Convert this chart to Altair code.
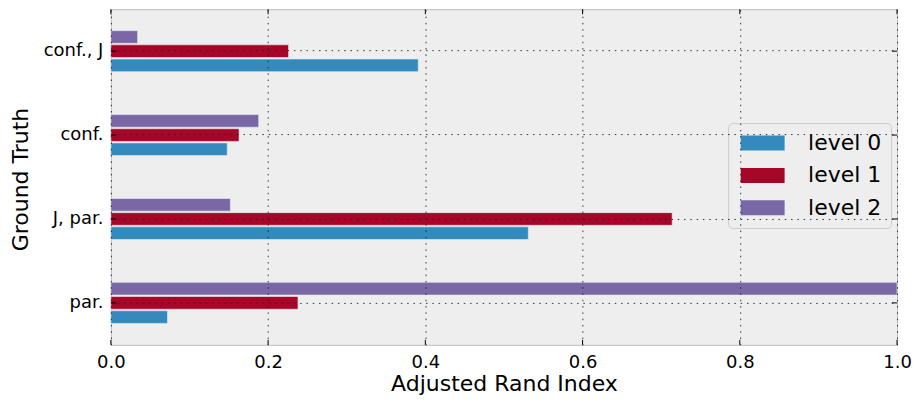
import altair as alt
import pandas as pd

categories = ["conf., J", "conf.", "J, par.", "par."]
levels = ["level 0", "level 1", "level 2"]
level0 = [0.391, 0.148, 0.531, 0.072]
level1 = [0.226, 0.163, 0.714, 0.238]
level2 = [0.034, 0.188, 0.152, 1.0]
colors = ["#348ABD", "#A60628", "#7A68A6"]
x_ticks = [0, 0.2, 0.4, 0.6, 0.8, 1.0]

rows = []
for lvl, vals in zip(levels, [level0, level1, level2]):
    for c, v in zip(categories, vals):
        rows.append({"truth": c, "level": lvl, "ari": v})
df = pd.DataFrame(rows)
tick_df = pd.DataFrame({"ari": x_ticks})
cat_df = pd.DataFrame({"truth": categories})

FONT = "DejaVu Sans"
W, H, TL = 787, 336, 5

x_scale = alt.Scale(domain=[0, 1], nice=False, zero=True)
y_scale = alt.Scale(paddingInner=0.493, paddingOuter=0.2465)

bars = alt.Chart(df).mark_bar(stroke="#eeeeee", strokeWidth=0.6).encode(
    x=alt.X("ari:Q", title="Adjusted Rand Index", scale=x_scale,
            axis=alt.Axis(values=x_ticks, format=".1f",
                          labelFontSize=18, titleFontSize=22, labelPadding=9,
                          titleBaseline="alphabetic", titleY=46,
                          tickSize=0, domain=False, zindex=1, grid=True,
                          labelFlush=False)),
    y=alt.Y("truth:N", title="Ground Truth", sort=categories, scale=y_scale,
            axis=alt.Axis(labelFontSize=18, titleFontSize=22, labelPadding=8,
                          tickSize=0, domain=False, zindex=1, bandPosition=0.5,
                          grid=True,
                          titleBaseline="alphabetic", titleX=-83.5, titleY=170,
                          titleAngle=-90, titleAlign="center")),
    yOffset=alt.YOffset("level:N", sort=["level 2", "level 1", "level 0"],
                        scale=alt.Scale(paddingInner=0.106, paddingOuter=0.053)),
    color=alt.Color("level:N", sort=levels,
                    scale=alt.Scale(domain=levels, range=colors),
                    legend=alt.Legend(title=None, orient="none", legendX=618, legendY=114,
                                      symbolType="M-2.93,-1H2.93V1H-2.93Z", symbolSize=225,
                                      symbolStrokeWidth=0, symbolOpacity=1,
                                      symbolOffset=14.5, labelOffset=34.5,
                                      labelFontSize=22, labelFont=FONT, rowPadding=10.4,
                                      padding=9, fillColor="#eeeeee", strokeColor="#cccccc",
                                      cornerRadius=4)),
)

xt = alt.Chart(tick_df).mark_rule(color="#000", strokeWidth=1)
top_ticks = xt.encode(x=alt.X("ari:Q", scale=x_scale),
                      y=alt.value(0), y2=alt.value(TL))
bottom_ticks = xt.encode(x=alt.X("ari:Q", scale=x_scale),
                         y=alt.value(H - TL), y2=alt.value(H))
yt = alt.Chart(cat_df).mark_rule(color="#000", strokeWidth=1)
left_ticks = yt.encode(y=alt.Y("truth:N", sort=categories, scale=y_scale),
                       x=alt.value(0), x2=alt.value(TL))
right_ticks = yt.encode(y=alt.Y("truth:N", sort=categories, scale=y_scale),
                        x=alt.value(W - TL), x2=alt.value(W))

chart = alt.layer(bars, top_ticks, bottom_ticks, left_ticks, right_ticks).properties(
    width=W, height=H,
    padding={"left": 1, "top": 0, "right": 0, "bottom": 0},
).configure(
    font=FONT,
).configure_view(
    fill="#eeeeee", stroke="#bcbcbc", strokeWidth=1,
).configure_axis(
    labelFont=FONT, titleFont=FONT, labelColor="#000", titleColor="#000",
    titleFontWeight="normal",
    gridColor="#222", gridDash=[1.5, 4.8], gridWidth=1, gridOpacity=0.9,
)

chart.save("out.html", embed_options={"renderer": "svg", "actions": False})
